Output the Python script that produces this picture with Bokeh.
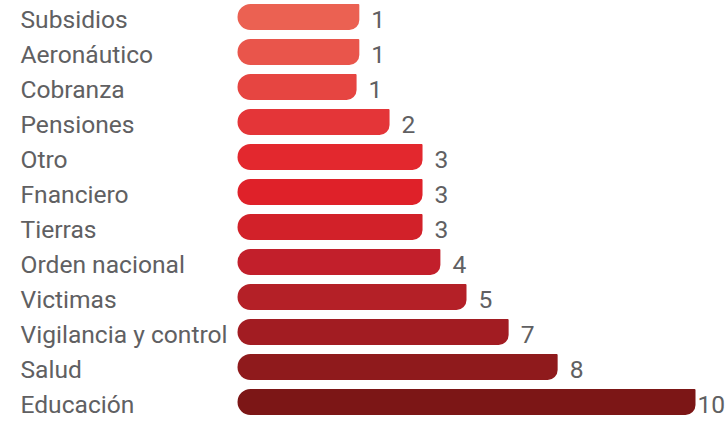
from bokeh.plotting import figure
from bokeh.models import ColumnDataSource, Range1d
from bokeh.core.properties import value
from bokeh.embed import file_html
from bokeh.resources import INLINE

# Datos (de arriba hacia abajo)
categorias = ["Subsidios", "Aeronáutico", "Cobranza", "Pensiones", "Otro", "Fnanciero",
              "Tierras", "Orden nacional", "Victimas", "Vigilancia y control", "Salud", "Educación"]
valores = [1, 1, 1, 2, 3, 3, 3, 4, 5, 7, 8, 10]
# longitud visual de cada barra tal como aparece en la infografía (escala: Educación = 10)
largo_visual = [2.66, 2.66, 2.60, 3.32, 4.04, 4.04, 4.04, 4.43, 5.00, 5.92, 6.99, 10.0]
colores = ["#EB6152", "#E9554B", "#E64541", "#E43538", "#E3282E", "#DF2129",
           "#D22129", "#C21F2B", "#B42027", "#A21C22", "#8F1A1C", "#7C1616"]

n = len(categorias)
ypos = [n - 1 - i for i in range(n)]
etiquetas_valor = [str(v) for v in valores]
desplaz = [2 if v >= 10 else 12 for v in valores]

src = ColumnDataSource(dict(cat=categorias, val=etiquetas_valor, largo=largo_visual,
                            y=ypos, color=colores, off=desplaz))

W, H = 728, 422
px_per_unit = 45.8
x0 = -237 / px_per_unit
x1 = (W - 237) / px_per_unit
row = 35.0
y0 = -(H - 401.5) / row
y1 = 401.5 / row

p = figure(width=W, height=H, output_backend="svg", toolbar_location=None,
           x_range=Range1d(x0, x1), y_range=Range1d(y0, y1), min_border=0)
p.axis.visible = False
p.grid.visible = False
p.outline_line_color = None
p.background_fill_color = "white"
p.border_fill_color = "white"

p.hbar(y="y", left=0, right="largo", height=0.743, fill_color="color", line_color=None,
       border_radius=(13, 1, 10, 13), source=src)

p.text(x=x0, y="y", text="cat", x_offset=20, y_offset=2, text_align="left",
       text_baseline="middle", text_font=value("Roboto"), text_font_size="24.6px",
       text_color="#606062", source=src)

p.text(x="largo", y="y", text="val", x_offset="off", y_offset=2, text_align="left",
       text_baseline="middle", text_font=value("Roboto"), text_font_size="24.6px",
       text_color="#606062", source=src)

open("out.html", "w").write(file_html(p, INLINE))
